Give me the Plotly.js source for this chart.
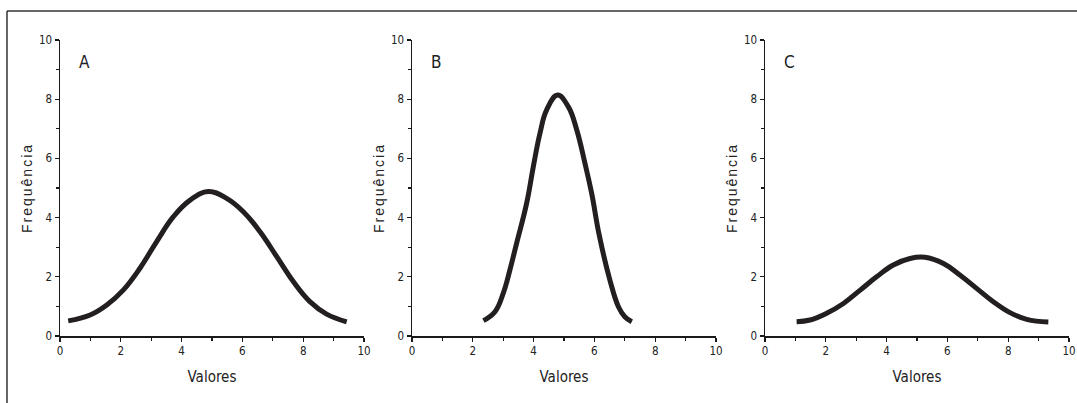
<!DOCTYPE html>
<html>
<head>
<meta charset="utf-8">
<script src="https://cdn.plot.ly/plotly-3.0.1.min.js"></script>
<style>
html,body{margin:0;padding:0;background:#fff;}
#chart{width:1077px;height:403px;}
.ytitle,.y2title,.y3title{letter-spacing:2px;}
</style>
</head>
<body>
<div id="chart"></div>
<script>
// Panel A
const xA = [0.27, 0.99, 1.54, 2.08, 2.63, 3.18, 3.73, 4.28, 4.88, 5.48, 6.03, 6.58, 7.13, 7.68, 8.22, 8.77, 9.43];
const yA = [0.51, 0.71, 1.05, 1.55, 2.29, 3.19, 4.03, 4.59, 4.88, 4.65, 4.2, 3.52, 2.68, 1.83, 1.16, 0.74, 0.48];
// Panel B
const xB = [2.35, 2.73, 3.0, 3.22, 3.44, 3.77, 3.99, 4.21, 4.43, 4.79, 5.14, 5.42, 5.69, 5.91, 6.16, 6.51, 6.79, 7.0, 7.23];
const yB = [0.52, 0.82, 1.44, 2.23, 3.13, 4.48, 5.72, 6.85, 7.64, 8.14, 7.75, 6.96, 5.83, 4.82, 3.4, 1.89, 0.99, 0.65, 0.48];
// Panel C
const xC = [1.04, 1.48, 2.03, 2.58, 3.13, 3.67, 4.22, 4.77, 5.26, 5.87, 6.41, 6.96, 7.51, 8.06, 8.61, 9.32];
const yC = [0.48, 0.54, 0.77, 1.1, 1.55, 2.0, 2.4, 2.62, 2.66, 2.45, 2.06, 1.61, 1.16, 0.79, 0.56, 0.47];

const panelLabels = ["A", "B", "C"];
const xTitle = "Valores";
const yTitle = "Frequência";

const W = 1077, H = 403;
const FONT = "Liberation Sans Narrow, Arial Narrow, DejaVu Sans Condensed, sans-serif";
const lineColor = "#231f20";
const axColor = "#1a1a1a";

function px(p){ return p / W; }
function py(p){ return 1 - p / H; }

const panels = [
  {x: xA, y: yA, left: 60},
  {x: xB, y: yB, left: 412},
  {x: xC, y: yC, left: 765}
];
const plotW = 304;
const yDomain = [py(336), py(40)];

const traces = [];
const layout = {
  width: W, height: H,
  margin: {l: 0, r: 0, t: 0, b: 0},
  paper_bgcolor: "#fff", plot_bgcolor: "rgba(0,0,0,0)",
  showlegend: false,
  font: {family: FONT, color: "#222", size: 11},
  annotations: [],
  shapes: [
    {type: "line", xref: "paper", yref: "paper", x0: px(7), x1: 1, y0: py(11), y1: py(11), line: {color: "#333", width: 1.5}},
    {type: "line", xref: "paper", yref: "paper", x0: px(7), x1: px(7), y0: py(11), y1: 0, line: {color: "#333", width: 1.5}}
  ]
};

panels.forEach((p, i) => {
  const n = i === 0 ? "" : String(i + 1);
  traces.push({
    type: "scatter", mode: "lines",
    x: p.x, y: p.y,
    xaxis: "x" + n, yaxis: "y" + n,
    line: {color: lineColor, width: 5, shape: "spline", smoothing: 1.2},
    hoverinfo: "skip"
  });
  const common = {
    showline: true, linecolor: axColor, linewidth: 1.5,
    ticks: "outside", ticklen: 4, tickwidth: 1.3, tickcolor: axColor,
    showgrid: false, zeroline: false, automargin: false,
    tickfont: {family: FONT, size: 11.5, color: "#222"},
    range: [0, 10], dtick: 2, tick0: 0, fixedrange: true,
    minor: {dtick: 1, ticks: "outside", ticklen: 3, tickwidth: 1.2, tickcolor: axColor, showgrid: false}
  };
  layout["xaxis" + n] = Object.assign({}, common, {
    domain: [px(p.left), px(p.left + plotW)],
    anchor: "y" + n,
    title: {text: xTitle, font: {family: FONT, size: 15, color: "#222"}, standoff: 14}
  });
  layout["yaxis" + n] = Object.assign({}, common, {
    domain: yDomain,
    anchor: "x" + n,
    title: {text: yTitle, font: {family: "Liberation Sans, Arial, sans-serif", size: 14, color: "#222"}, standoff: 3}
  });
  layout.annotations.push({
    xref: "x" + n, yref: "y" + n, x: 0.8, y: 9.27,
    text: panelLabels[i], showarrow: false,
    font: {family: FONT, size: 17, color: "#222"},
    xanchor: "center", yanchor: "middle"
  });
});

Plotly.newPlot("chart", traces, layout, {displayModeBar: false, staticPlot: true});
</script>
</body>
</html>
